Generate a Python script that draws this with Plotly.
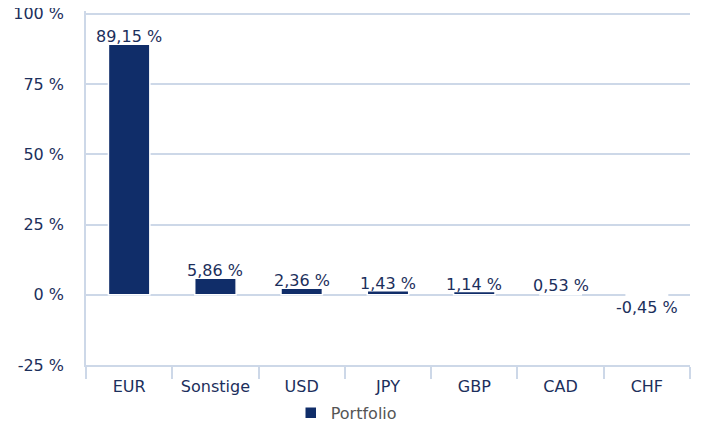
import plotly.graph_objects as go

categories = ["EUR", "Sonstige", "USD", "JPY", "GBP", "CAD", "CHF"]
values = [89.15, 5.86, 2.36, 1.43, 1.14, 0.53, -0.45]
labels = ["89,15 %", "5,86 %", "2,36 %", "1,43 %", "1,14 %", "0,53 %", "-0,45 %"]
series_name = "Portfolio"
ytick_vals = [-25, 0, 25, 50, 75, 100]
ytick_text = ["-25 %", "0 %", "25 %", "50 %", "75 %", "100 %"]
y_range = [-25, 101]

BAR = "#102d69"
TEXT = "#1c2f5c"
GRID = "#cdd8e8"
FONT = "DejaVu Sans"
FS = 16

fig = go.Figure()
fig.add_trace(go.Bar(
    x=categories, y=values, name=series_name,
    marker=dict(color=BAR, line=dict(color="white", width=1.5)),
    width=0.48,
    hoverinfo="skip",
))

for cat, val, lab in zip(categories, values, labels):
    fig.add_annotation(
        x=cat, y=val, text=lab, showarrow=False,
        yanchor="bottom" if val >= 0 else "top",
        yshift=-4 if val >= 0 else 0,
        font=dict(family=FONT, size=FS, color=TEXT),
    )

fig.update_layout(
    width=701, height=423,
    margin=dict(l=78, r=18.5, t=2.7, b=66, autoexpand=False),
    paper_bgcolor="white", plot_bgcolor="white",
    font=dict(family=FONT, size=FS, color=TEXT),
    showlegend=True,
    legend=dict(orientation="h", x=0.339, xanchor="left", y=-0.087, yanchor="top",
                font=dict(family=FONT, size=FS, color="#555555"),
                itemwidth=30, bgcolor="rgba(0,0,0,0)"),
)
fig.update_xaxes(
    automargin=False,
    showgrid=False, showline=True, linecolor=GRID, linewidth=1.5,
    ticks="outside", tickson="boundaries", ticklen=12, tickcolor=GRID, tickwidth=1.5,
    ticklabelstandoff=6,
    tickfont=dict(family=FONT, size=FS, color=TEXT),
)
fig.update_yaxes(
    automargin=False,
    range=y_range, tickvals=ytick_vals, ticktext=ytick_text,
    showgrid=True, gridcolor=GRID, gridwidth=1.5,
    zeroline=False, showline=True, linecolor=GRID, linewidth=1.5,
    ticks="", ticklabelstandoff=17, ticklabeloverflow="allow",
    tickfont=dict(family=FONT, size=FS, color=TEXT),
)

fig.write_html("out.html")
